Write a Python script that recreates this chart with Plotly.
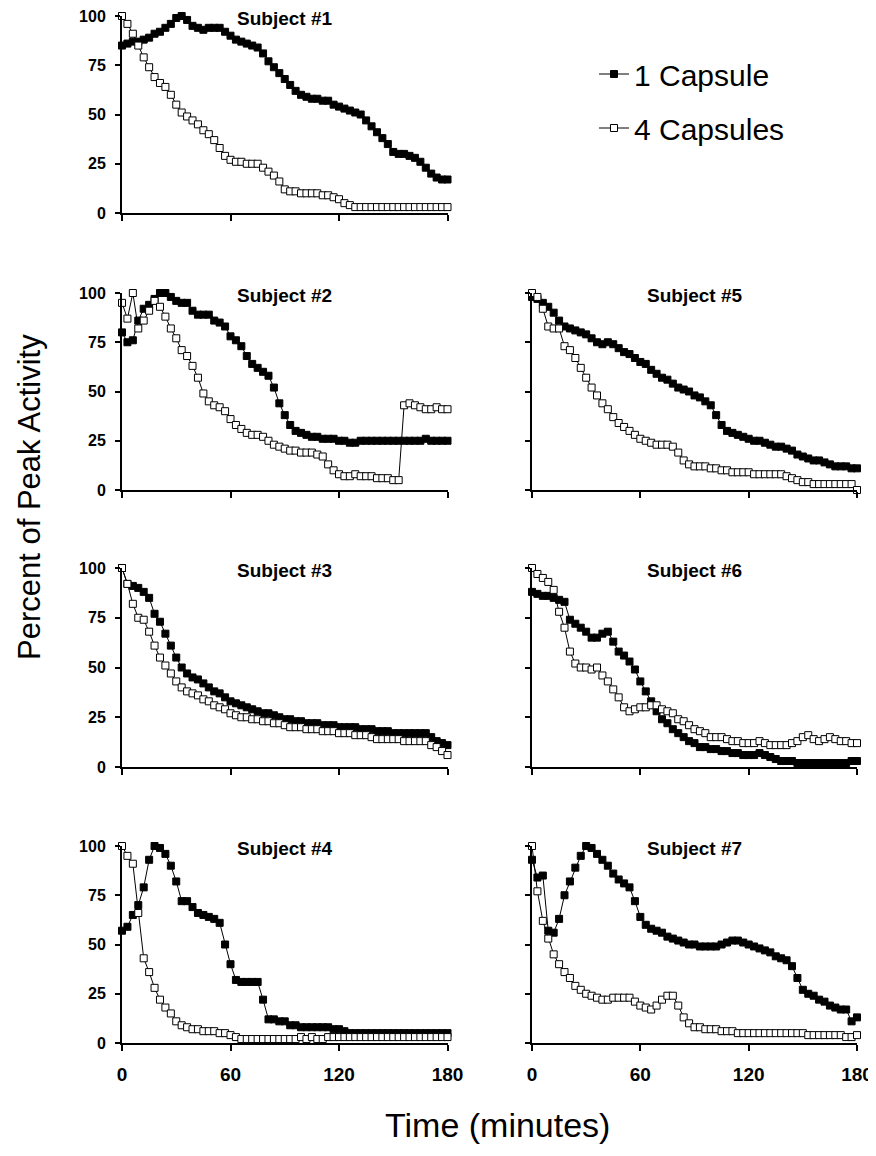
import plotly.graph_objects as go

# The page body adds an 8 px margin, so the figure is drawn 8 px in from the
# window's corner; all pixel positions below are window pixels minus OFF.
OFF = 8
W, H = 876 - OFF, 1156 - 2 * OFF

# time axis (minutes)
minutes = list(range(0, 181, 3))
x_ticks = [0, 60, 120, 180]
y_ticks = [0, 25, 50, 75, 100]
series_names = ["1 Capsule", "4 Capsules"]
subject_titles = ["Subject #1", "Subject #2", "Subject #3", "Subject #4",
                  "Subject #5", "Subject #6", "Subject #7"]

# ---- data: percent of peak activity, one value every 3 minutes ----
s1_one = [85, 86, 87, 87, 88, 89, 91, 92, 94, 96,
          99, 100, 98, 95, 94, 93, 94, 94, 94, 92,
          90, 88, 87, 86, 85, 84, 81, 77, 74, 71,
          68, 65, 62, 60, 59, 58, 58, 57, 57, 55,
          54, 53, 52, 51, 50, 47, 44, 41, 38, 35,
          31, 30, 30, 29, 28, 26, 23, 20, 18, 17,
          17]
s1_four = [100, 96, 91, 85, 79, 74, 69, 66, 64, 60,
           55, 51, 49, 47, 45, 42, 40, 37, 33, 29,
           27, 26, 26, 25, 25, 25, 23, 21, 19, 16,
           12, 11, 11, 10, 10, 10, 10, 9, 9, 8,
           7, 5, 4, 3, 3, 3, 3, 3, 3, 3,
           3, 3, 3, 3, 3, 3, 3, 3, 3, 3,
           3]

s2_one = [80, 75, 76, 86, 92, 94, 97, 100, 100, 98,
          96, 95, 95, 91, 89, 89, 89, 86, 85, 83,
          78, 76, 73, 68, 64, 62, 60, 58, 52, 44,
          38, 33, 30, 29, 28, 27, 27, 26, 26, 26,
          25, 25, 24, 24, 25, 25, 25, 25, 25, 25,
          25, 25, 25, 25, 25, 25, 26, 25, 25, 25,
          25]
s2_four = [95, 87, 100, 82, 86, 91, 96, 93, 88, 82,
           77, 71, 68, 63, 57, 49, 45, 43, 42, 40,
           36, 33, 31, 29, 28, 28, 27, 25, 23, 22,
           21, 20, 20, 19, 19, 19, 18, 17, 13, 10,
           8, 7, 7, 8, 7, 7, 7, 6, 6, 6,
           5, 5, 43, 44, 43, 42, 41, 41, 42, 41,
           41]

s3_one = [100, 92, 91, 90, 88, 85, 77, 73, 67, 61,
          55, 50, 47, 45, 44, 42, 40, 38, 37, 35,
          33, 32, 31, 30, 29, 28, 27, 27, 26, 25,
          24, 24, 23, 23, 22, 22, 22, 21, 21, 21,
          20, 20, 20, 20, 19, 19, 19, 18, 18, 18,
          17, 17, 17, 17, 17, 17, 17, 15, 13, 12,
          11]
s3_four = [100, 92, 82, 75, 74, 68, 61, 55, 51, 47,
           43, 40, 38, 37, 36, 34, 33, 31, 30, 29,
           27, 26, 25, 25, 24, 24, 23, 23, 22, 22,
           21, 20, 20, 20, 19, 19, 19, 18, 18, 18,
           17, 17, 17, 16, 16, 16, 15, 14, 14, 14,
           14, 14, 13, 13, 13, 13, 13, 11, 10, 8,
           6]

s4_one = [57, 59, 65, 70, 79, 93, 100, 99, 96, 90,
          82, 72, 72, 69, 66, 65, 64, 63, 61, 50,
          40, 32, 31, 31, 31, 31, 22, 12, 12, 11,
          11, 9, 9, 8, 8, 8, 8, 8, 8, 7,
          7, 6, 5, 5, 5, 5, 5, 5, 5, 5,
          5, 5, 5, 5, 5, 5, 5, 5, 5, 5,
          5]
s4_four = [100, 95, 91, 66, 43, 36, 28, 22, 18, 15,
           11, 9, 8, 7, 7, 6, 6, 6, 5, 5,
           4, 3, 2, 2, 2, 2, 2, 2, 2, 2,
           2, 2, 2, 3, 2, 3, 2, 2, 3, 3,
           3, 3, 3, 3, 3, 3, 3, 3, 3, 3,
           3, 3, 3, 3, 3, 3, 3, 3, 3, 3,
           3]

s5_one = [98, 97, 95, 93, 90, 86, 83, 82, 81, 80,
          79, 77, 75, 74, 75, 74, 72, 70, 69, 67,
          65, 64, 61, 59, 57, 56, 54, 52, 51, 50,
          48, 47, 45, 43, 38, 33, 30, 29, 28, 27,
          26, 25, 25, 24, 23, 22, 22, 21, 20, 18,
          17, 16, 15, 15, 14, 13, 12, 12, 12, 11,
          11]
s5_four = [100, 98, 92, 83, 82, 82, 73, 71, 67, 62,
           57, 52, 48, 44, 41, 37, 34, 32, 30, 28,
           26, 25, 24, 23, 23, 23, 22, 19, 15, 13,
           12, 12, 12, 11, 11, 10, 10, 9, 9, 9,
           9, 8, 8, 8, 8, 8, 8, 7, 6, 5,
           4, 4, 3, 3, 3, 3, 3, 3, 3, 3,
           0]

s6_one = [88, 87, 86, 86, 85, 84, 83, 74, 72, 70,
          68, 65, 65, 67, 68, 63, 58, 56, 53, 49,
          43, 38, 33, 28, 24, 22, 19, 17, 15, 13,
          12, 10, 10, 9, 9, 8, 8, 7, 7, 6,
          6, 6, 7, 6, 5, 4, 3, 3, 3, 2,
          2, 2, 2, 2, 2, 2, 2, 2, 2, 3,
          3]
s6_four = [100, 97, 95, 93, 89, 78, 70, 58, 52, 50,
           50, 49, 50, 46, 43, 39, 35, 30, 28, 29,
           30, 30, 31, 31, 29, 28, 27, 24, 23, 21,
           19, 18, 17, 15, 15, 15, 14, 13, 13, 12,
           12, 12, 13, 12, 11, 11, 11, 11, 12, 13,
           15, 16, 14, 13, 14, 15, 14, 13, 13, 12,
           12]

s7_one = [93, 84, 85, 57, 56, 63, 75, 82, 89, 95,
          100, 99, 96, 93, 90, 86, 83, 81, 79, 72,
          64, 60, 58, 57, 56, 54, 53, 52, 51, 50,
          50, 49, 49, 49, 49, 50, 51, 52, 52, 51,
          50, 49, 48, 47, 46, 44, 43, 42, 39, 33,
          27, 25, 24, 22, 21, 19, 18, 17, 17, 11,
          13]
s7_four = [100, 77, 62, 53, 45, 40, 36, 33, 29, 27,
           25, 24, 23, 22, 22, 23, 23, 23, 23, 21,
           19, 18, 17, 19, 22, 24, 24, 19, 13, 10,
           8, 8, 7, 7, 7, 6, 6, 6, 5, 5,
           5, 5, 5, 5, 5, 5, 5, 5, 5, 5,
           5, 4, 4, 4, 4, 4, 4, 4, 3, 3,
           4]

one_capsule = [s1_one, s2_one, s3_one, s4_one, s5_one, s6_one, s7_one]
four_capsules = [s1_four, s2_four, s3_four, s4_four, s5_four, s6_four, s7_four]

# ---- layout geometry (window pixels) ----
col_px = {"L": (122, 447.5), "R": (532, 857)}
row_px = [(16, 213), (293, 490), (568, 767), (846, 1043)]
placement = [("L", 0), ("L", 1), ("L", 2), ("L", 3), ("R", 1), ("R", 2), ("R", 3)]


def px_x(px):
    return (px - OFF) / W


def px_y(py):
    return 1 - (py - OFF) / H


FONT = "Arial, Liberation Sans, Helvetica, sans-serif"

fig = go.Figure()
annotations = []
for i, (col, row) in enumerate(placement):
    k = i + 1
    xa = "x" if k == 1 else f"x{k}"
    ya = "y" if k == 1 else f"y{k}"
    fig.add_trace(go.Scatter(
        x=minutes, y=one_capsule[i], xaxis=xa, yaxis=ya,
        mode="lines+markers", name=series_names[0],
        legendgroup="one", showlegend=(k == 1), cliponaxis=False,
        line=dict(color="black", width=1),
        marker=dict(symbol="square", size=7, color="black",
                    line=dict(color="black", width=1)),
    ))
    fig.add_trace(go.Scatter(
        x=minutes, y=four_capsules[i], xaxis=xa, yaxis=ya,
        mode="lines+markers", name=series_names[1],
        legendgroup="four", showlegend=(k == 1), cliponaxis=False,
        line=dict(color="black", width=1),
        marker=dict(symbol="square", size=7, color="white",
                    line=dict(color="black", width=1)),
    ))
    x0, x1 = col_px[col]
    yt, yb = row_px[row]
    bottom = row == 3
    left = col == "L"
    xkey = "xaxis" if k == 1 else f"xaxis{k}"
    ykey = "yaxis" if k == 1 else f"yaxis{k}"
    fig.update_layout(**{
        xkey: dict(
            domain=[px_x(x0), px_x(x1)], anchor=ya, range=[0, 180],
            tickvals=x_ticks, ticktext=[str(v) for v in x_ticks],
            showticklabels=bottom, ticks="outside", ticklen=6, tickwidth=2,
            tickcolor="black", showline=True, linecolor="black", linewidth=2,
            showgrid=False, zeroline=False, ticklabelstandoff=7,
            automargin=False, ticklabeloverflow="allow",
            tickfont=dict(family=FONT, size=19, color="black", weight="bold"),
        ),
        ykey: dict(
            domain=[px_y(yb), px_y(yt)], anchor=xa, range=[0, 100],
            tickvals=y_ticks, showticklabels=left, ticks="outside",
            ticklen=5, tickwidth=2, tickcolor="black", showline=True,
            linecolor="black", linewidth=2, showgrid=False, zeroline=False,
            ticklabelstandoff=6, automargin=False, ticklabeloverflow="allow",
            tickfont=dict(family=FONT, size=16, color="black", weight="bold"),
        ),
    })
    annotations.append(dict(
        text=subject_titles[i], xref="paper", yref="paper",
        x=px_x((x0 + x1) / 2), y=px_y(yt + 2), xanchor="center",
        yanchor="middle", showarrow=False,
        font=dict(family=FONT, size=19, color="black", weight="bold"),
    ))

annotations.append(dict(
    text="Percent of Peak Activity", xref="paper", yref="paper",
    x=px_x(29), y=px_y(497), xanchor="center", yanchor="middle",
    textangle=-90, showarrow=False,
    font=dict(family=FONT, size=31, color="black"),
))
annotations.append(dict(
    text="Time (minutes)", xref="paper", yref="paper",
    x=px_x(497), y=px_y(1125), xanchor="center", yanchor="middle",
    showarrow=False, font=dict(family=FONT, size=34, color="black"),
))

fig.update_layout(
    width=W, height=H, margin=dict(l=0, r=0, t=0, b=0, autoexpand=False),
    paper_bgcolor="white", plot_bgcolor="white",
    annotations=annotations,
    showlegend=True,
    legend=dict(
        x=px_x(594), y=px_y(48), xanchor="left", yanchor="top",
        font=dict(family=FONT, size=30, color="black"),
        bgcolor="rgba(0,0,0,0)", tracegroupgap=12, itemwidth=30,
    ),
)

fig.write_html("out.html")
